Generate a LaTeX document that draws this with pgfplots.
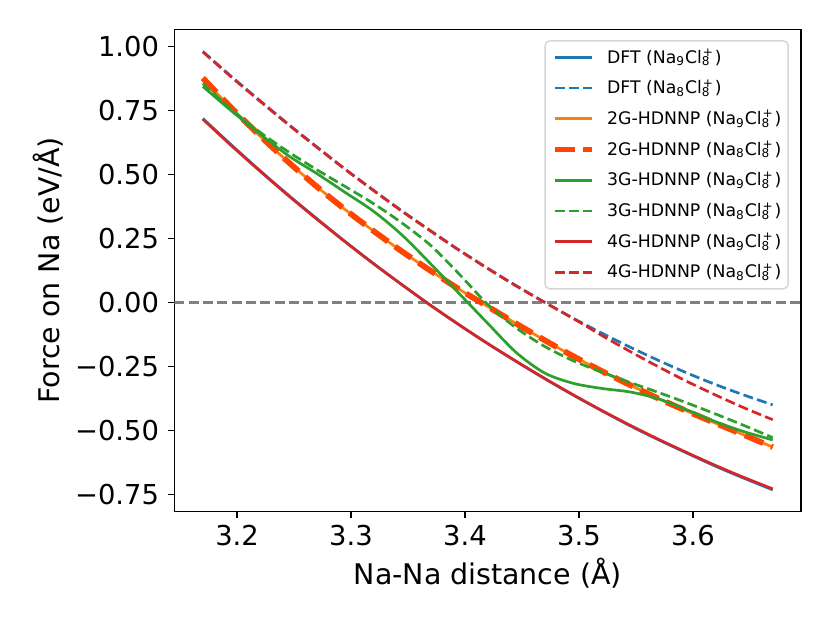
\documentclass[border=0pt]{standalone}
\usepackage{fontspec}
\setmainfont{DejaVu Sans}
\usepackage{pgfplots}
\pgfplotsset{compat=1.18}
\usepackage{pgfplotstable}
\definecolor{tabblue}{HTML}{1F77B4}
\definecolor{taborange}{HTML}{FF7F0E}
\definecolor{orangered}{HTML}{FF4500}
\definecolor{tabgreen}{HTML}{2CA02C}
\definecolor{tabred}{HTML}{D62728}
\definecolor{zgray}{HTML}{808080}
\definecolor{legedge}{HTML}{D6D6D6}
\newcommand{\clep}{Cl\textsubscript{\rlap{8}}\textsuperscript{+}\hspace{0.06em}}
\newcommand{\naA}{Na\textsubscript{9}\clep}
\newcommand{\naB}{Na\textsubscript{8}\clep}
\pgfplotstableread{
x dftA dftB gtwoA gtwoB gthrA gthrB gfouA gfouB
3.170 0.718 0.980 0.873 0.876 0.843 0.855 0.715 0.978
3.195 0.615 0.882 0.758 0.760 0.748 0.754 0.612 0.880
3.220 0.515 0.788 0.650 0.651 0.658 0.665 0.513 0.786
3.245 0.419 0.696 0.548 0.548 0.573 0.588 0.417 0.694
3.270 0.327 0.607 0.452 0.452 0.503 0.518 0.325 0.606
3.295 0.237 0.520 0.362 0.362 0.429 0.452 0.236 0.519
3.320 0.151 0.437 0.278 0.278 0.355 0.385 0.150 0.436
3.345 0.068 0.356 0.198 0.198 0.262 0.309 0.068 0.355
3.370 -0.012 0.279 0.123 0.123 0.150 0.222 -0.012 0.278
3.395 -0.088 0.204 0.051 0.051 0.034 0.110 -0.088 0.203
3.420 -0.161 0.133 -0.016 -0.016 -0.082 -0.008 -0.161 0.132
3.445 -0.231 0.065 -0.083 -0.083 -0.196 -0.100 -0.230 0.064
3.470 -0.298 0.000 -0.148 -0.148 -0.276 -0.172 -0.297 0.000
3.495 -0.362 -0.062 -0.210 -0.210 -0.316 -0.228 -0.361 -0.063
3.520 -0.423 -0.120 -0.268 -0.268 -0.336 -0.272 -0.422 -0.129
3.545 -0.482 -0.175 -0.323 -0.323 -0.350 -0.313 -0.480 -0.192
3.570 -0.537 -0.227 -0.376 -0.376 -0.377 -0.352 -0.535 -0.252
3.595 -0.589 -0.276 -0.425 -0.425 -0.420 -0.393 -0.587 -0.309
3.620 -0.640 -0.321 -0.472 -0.472 -0.466 -0.436 -0.637 -0.362
3.645 -0.687 -0.362 -0.518 -0.518 -0.505 -0.481 -0.684 -0.412
3.670 -0.732 -0.400 -0.565 -0.565 -0.537 -0.528 -0.728 -0.458
}\data
\begin{document}
\begin{tikzpicture}
\useasboundingbox (-96.8pt,-62pt) rectangle (364pt,283.9pt);
\begin{axis}[
  at={(0,0)}, anchor=south west, scale only axis,
  width=348pt, height=267.6pt,
  xmin=3.145, xmax=3.695, ymin=-0.816, ymax=1.066,
  xtick={3.2,3.3,3.4,3.5,3.6},
  xticklabels={3.2,3.3,3.4,3.5,3.6},
  ytick={-0.75,-0.5,-0.25,0,0.25,0.5,0.75,1},
  yticklabels={−0.75,−0.50,−0.25,0.00,0.25,0.50,0.75,1.00},
  tick align=outside, major tick length=3.5pt, tick pos=left,
  every tick/.style={black, line width=0.8pt},
  axis line style={line width=0.8pt},
  xticklabel style={font=\fontsize{15.2}{18}\selectfont, anchor=base, inner sep=0pt, yshift=-15.6pt},
  yticklabel style={font=\fontsize{15.2}{18}\selectfont, anchor=east, inner sep=0pt, xshift=-4.8pt},
  xlabel={Na-Na distance (Å)},
  ylabel={Force on Na (eV/Å)},
  label style={font=\fontsize{15.8}{19}\selectfont, inner sep=0pt},
  xlabel style={at={(axis description cs:0.5,-0.1525)}, anchor=base},
  ylabel style={at={(axis description cs:-0.1825,0.5)}, anchor=base},
  legend cell align=left,
  legend image code/.code={\draw[#1] (0pt,0pt) -- (20.7pt,0pt);},
  legend style={at={(axis description cs:0.9802,0.9776)}, anchor=north east,
    draw=legedge, line width=0.8pt, rounded corners=2.5pt, fill=white,
    font=\fontsize{9.6}{12}\selectfont, inner xsep=3.7pt, inner ysep=4.5pt,
    row sep=7.7pt, column sep=6.8pt, nodes={inner sep=0pt}},
]
\addplot[zgray, line width=1.5pt, dash pattern=on 5.55pt off 2.4pt, forget plot] coordinates {(3.145,0) (3.695,0)};
\addplot[tabblue, line width=1.5pt, smooth] table[x=x,y=dftA]{\data};
\addlegendentry{DFT (\naA)}
\addplot[tabblue, line width=1.5pt, smooth, dash pattern=on 5.55pt off 2.4pt] table[x=x,y=dftB]{\data};
\addlegendentry{DFT (\naB)}
\addplot[taborange, line width=1.5pt, smooth] table[x=x,y=gtwoA]{\data};
\addlegendentry{2G-HDNNP (\naA)}
\addplot[orangered, line width=3.2pt, smooth, dash pattern=on 11pt off 4.8pt] table[x=x,y=gtwoB]{\data};
\addlegendentry{2G-HDNNP (\naB)}
\addplot[tabgreen, line width=1.5pt, smooth] table[x=x,y=gthrA]{\data};
\addlegendentry{3G-HDNNP (\naA)}
\addplot[tabgreen, line width=1.5pt, smooth, dash pattern=on 5.55pt off 2.4pt] table[x=x,y=gthrB]{\data};
\addlegendentry{3G-HDNNP (\naB)}
\addplot[tabred, line width=1.5pt, smooth] table[x=x,y=gfouA]{\data};
\addlegendentry{4G-HDNNP (\naA)}
\addplot[tabred, line width=1.5pt, smooth, dash pattern=on 5.55pt off 2.4pt] table[x=x,y=gfouB]{\data};
\addlegendentry{4G-HDNNP (\naB)}
\end{axis}
\end{tikzpicture}
\end{document}
